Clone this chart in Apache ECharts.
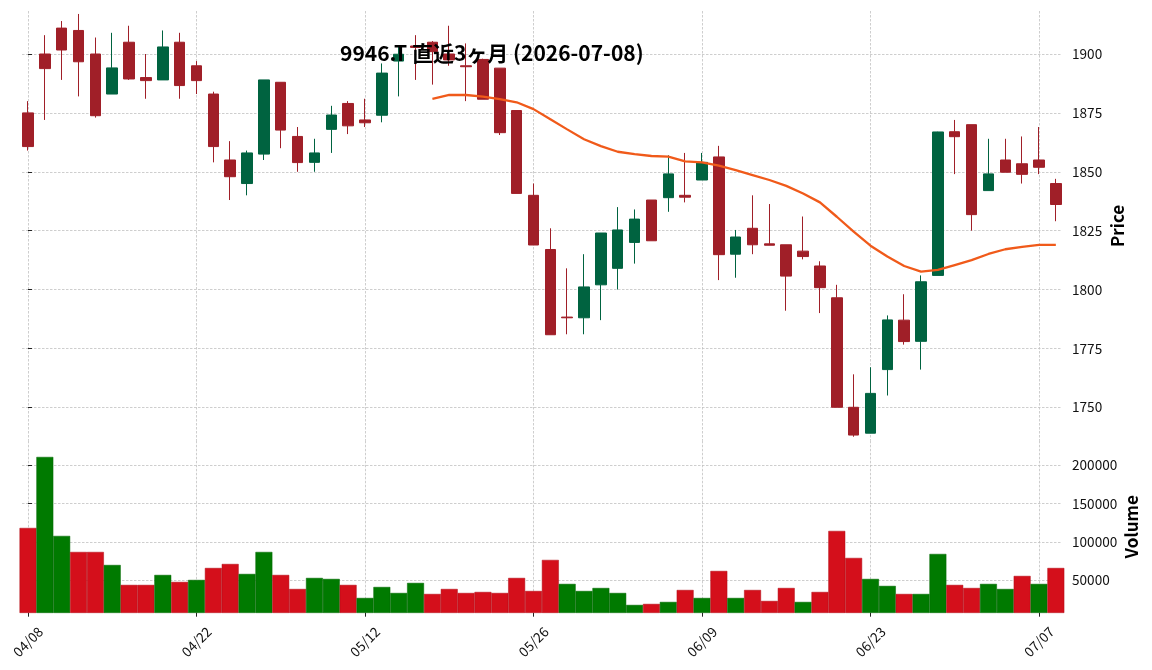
<!DOCTYPE html>
<html><head><meta charset="utf-8">
<script src="https://cdn.jsdelivr.net/npm/echarts@6/dist/echarts.min.js"></script>
<style>html,body{margin:0;padding:0;background:#fff}#c{width:1152px;height:670px}</style>
</head><body><div id="c"></div>
<script>
const dates = ['04/08','04/09','04/10','04/13','04/14','04/15','04/16','04/17','04/20','04/21',
  '04/22','04/23','04/24','04/27','04/28','04/30','05/01','05/07','05/08','05/11',
  '05/12','05/13','05/14','05/15','05/18','05/19','05/20','05/21','05/22','05/25',
  '05/26','05/27','05/28','05/29','06/01','06/02','06/03','06/04','06/05','06/08',
  '06/09','06/10','06/11','06/12','06/15','06/16','06/17','06/18','06/19','06/22',
  '06/23','06/24','06/25','06/26','06/29','06/30','07/01','07/02','07/03','07/06',
  '07/07','07/08'];
const opens = [1875,1900,1911,1910,1900,1883,1905,1890,1889,1905,
  1895,1883,1855,1845,1857.5,1888,1865,1854,1868,1879,
  1872,1874,1897,1903.4,1905,1900,1895,1897.7,1894,1876,
  1840,1817,1788.3,1788,1802,1809,1820,1838,1839,1840,
  1846.5,1856.3,1815,1826,1819.4,1819,1816.3,1810,1796.5,1750,
  1739,1766,1787,1778,1806,1867,1870,1842,1855,1853.4,
  1855,1845];
const closes = [1860.7,1893.8,1901.7,1896.7,1873.8,1894.1,1889.4,1888.7,1903,1886.6,
  1888.7,1860.7,1847.9,1858,1889,1867.7,1853.9,1858,1874.1,1869.5,
  1870.8,1891.9,1899.9,1902.8,1901,1897.5,1894.6,1880.8,1866.6,1840.8,
  1818.9,1780.8,1788,1801.1,1824,1825.3,1829.9,1820.7,1849.1,1839.2,
  1854,1814.8,1822.3,1819,1818.8,1805.7,1814,1800.8,1750,1738.2,
  1755.9,1787.1,1777.9,1803.3,1866.9,1864.9,1831.8,1849.1,1849.8,1848.9,
  1851.9,1836.1];
const lows = [1859,1872,1889,1882,1873,1883,1889,1881,1889,1881,
  1883,1854,1838,1840,1855,1860,1850,1850,1858,1866,
  1869,1871,1882,1889,1887,1895,1880,1880.8,1865.6,1840.8,
  1818.9,1780.8,1781,1781,1787,1800,1811,1820.7,1833,1837,
  1846.5,1804,1805,1815,1818.8,1791,1812.8,1790,1750,1737.5,
  1739,1755,1776.6,1766,1806,1849,1825,1842,1849.8,1845,
  1849,1829];
const highs = [1880,1908,1914,1917,1907,1909,1912,1900,1910,1909,
  1897,1884,1863,1859,1889,1888,1869,1864,1878,1880,
  1881,1896,1903,1908,1905.5,1912,1904.5,1898,1894,1876,
  1845,1826,1809,1815,1824,1835,1834,1838,1857,1858,
  1858,1861,1825.3,1840,1836.3,1819,1831,1812,1802,1764,
  1767,1789,1798,1806,1867,1872,1870,1864,1864,1865,
  1869,1847];
const volumes = [118300,210900,107900,87000,87000,70000,44000,44000,57000,47900,
  50500,66100,71300,58300,87000,57000,38700,53100,51800,44000,
  27000,41300,33500,46600,32200,38700,33500,34800,33500,53100,
  36100,76600,45300,36100,40000,33500,17900,19200,21800,37400,
  27000,62200,27000,37400,23100,40000,21800,34800,114400,79200,
  51800,42700,32200,32200,84400,44000,40000,45300,38700,55700,
  45300,66100];
const ma25 = [null,null,null,null,null,null,null,null,null,null,
  null,null,null,null,null,null,null,null,null,null,
  null,null,null,null,1881.0,1882.6,1882.6,1881.9,1880.8,1879.5,
  1876.6,1872.3,1868.0,1863.8,1860.9,1858.5,1857.5,1856.7,1856.4,1854.4,
  1854.0,1852.6,1850.7,1848.6,1846.5,1844.0,1840.8,1837.0,1830.9,1824.6,
  1818.6,1814.0,1810.0,1807.6,1808.3,1810.4,1812.5,1815.1,1817.1,1818.1,
  1819.0,1819.0];
const priceTicks = [1750,1775,1800,1825,1850,1875,1900];
const volumeTicks = [50000,100000,150000,200000];
const dateTickIdx = [0,10,20,30,40,50,60];
const titleText = '9946.T 直近3ヶ月 (2026-07-08)';

const FONT = '"Noto Sans CJK JP", "Noto Sans", sans-serif';
const UP = '#006340', DOWN = '#a01f28';
const VUP = '#007a00', VDOWN = '#d40f1b';
const X_MIN = -0.356, X_MAX = 61.365;

const candleData = dates.map((d, i) => [i, opens[i], closes[i], lows[i], highs[i]]);
const volData = volumes.map((v, i) => {
  const up = i === 0 ? closes[i] >= opens[i] : closes[i] >= closes[i - 1];
  return { value: [i, v], itemStyle: { color: up ? VUP : VDOWN, borderColor: up ? '#006600' : '#b00c16' } };
});
const maData = ma25.map((v, i) => [i, v]);

const gridLine = { show: true, lineStyle: { type: [2.5, 1.5], color: '#c2c2c2', width: 0.8 } };
const plain = v => String(v);

const chart = echarts.init(document.getElementById('c'), null, { renderer: 'canvas' });
chart.setOption({
  animation: false,
  backgroundColor: '#ffffff',
  title: {
    text: titleText, left: 340, top: 43, padding: 0,
    textStyle: { fontFamily: FONT, fontSize: 21, fontWeight: 'bold', color: '#000' }
  },
  grid: [
    { left: 22, width: 1040, top: 11, height: 429.8 },
    { left: 22, width: 1040, top: 440.8, height: 171.9 }
  ],
  xAxis: [
    { type: 'value', gridIndex: 0, min: X_MIN, max: X_MAX,
      axisLine: { show: false }, axisLabel: { show: false },
      axisTick: { show: false, customValues: dateTickIdx },
      splitLine: gridLine },
    { type: 'value', gridIndex: 1, min: X_MIN, max: X_MAX,
      axisLine: { show: false },
      axisTick: { show: true, length: 4, customValues: dateTickIdx, lineStyle: { color: '#222', width: 1 } },
      axisLabel: { customValues: dateTickIdx, formatter: v => dates[Math.round(v)],
        rotate: 45, align: 'center', verticalAlign: 'middle', margin: 29,
        fontFamily: FONT, fontSize: 13.6, color: '#111' },
      splitLine: gridLine }
  ],
  yAxis: [
    { type: 'value', gridIndex: 0, position: 'right', min: 1735.77, max: 1918.26,
      axisLine: { show: false },
      axisTick: { show: true, length: 4, customValues: priceTicks, lineStyle: { color: '#222' } },
      axisLabel: { customValues: priceTicks, formatter: plain, margin: 10, fontFamily: FONT, fontSize: 13.6, color: '#111' },
      splitLine: gridLine,
      name: 'Price', nameLocation: 'middle', nameRotate: 90, nameGap: 47, nameMoveOverlap: false,
      nameTextStyle: { fontFamily: FONT, fontSize: 17, fontWeight: 'bold', color: '#000' } },
    { type: 'value', gridIndex: 1, position: 'right', min: 7760, max: 231960,
      axisLine: { show: false },
      axisTick: { show: true, length: 4, customValues: volumeTicks, lineStyle: { color: '#222' } },
      axisLabel: { customValues: volumeTicks, formatter: plain, margin: 10, fontFamily: FONT, fontSize: 13.6, color: '#111' },
      splitLine: gridLine,
      name: 'Volume', nameLocation: 'middle', nameRotate: 90, nameGap: 61, nameMoveOverlap: false,
      nameTextStyle: { fontFamily: FONT, fontSize: 17, fontWeight: 'bold', color: '#000' } }
  ],
  series: [
    { type: 'candlestick', xAxisIndex: 0, yAxisIndex: 0, data: candleData,
      encode: { x: 0, y: [1, 2, 3, 4] }, barWidth: 11, z: 2,
      itemStyle: { color: UP, color0: DOWN, borderColor: UP, borderColor0: DOWN, borderWidth: 1 } },
    { type: 'line', xAxisIndex: 0, yAxisIndex: 0, data: maData, showSymbol: false, z: 3,
      lineStyle: { color: '#f05a1a', width: 2.3 }, connectNulls: false },
    { type: 'bar', xAxisIndex: 1, yAxisIndex: 1, data: volData, barWidth: 16.9,
      itemStyle: { borderWidth: 0.5 } }
  ]
});
</script></body></html>
